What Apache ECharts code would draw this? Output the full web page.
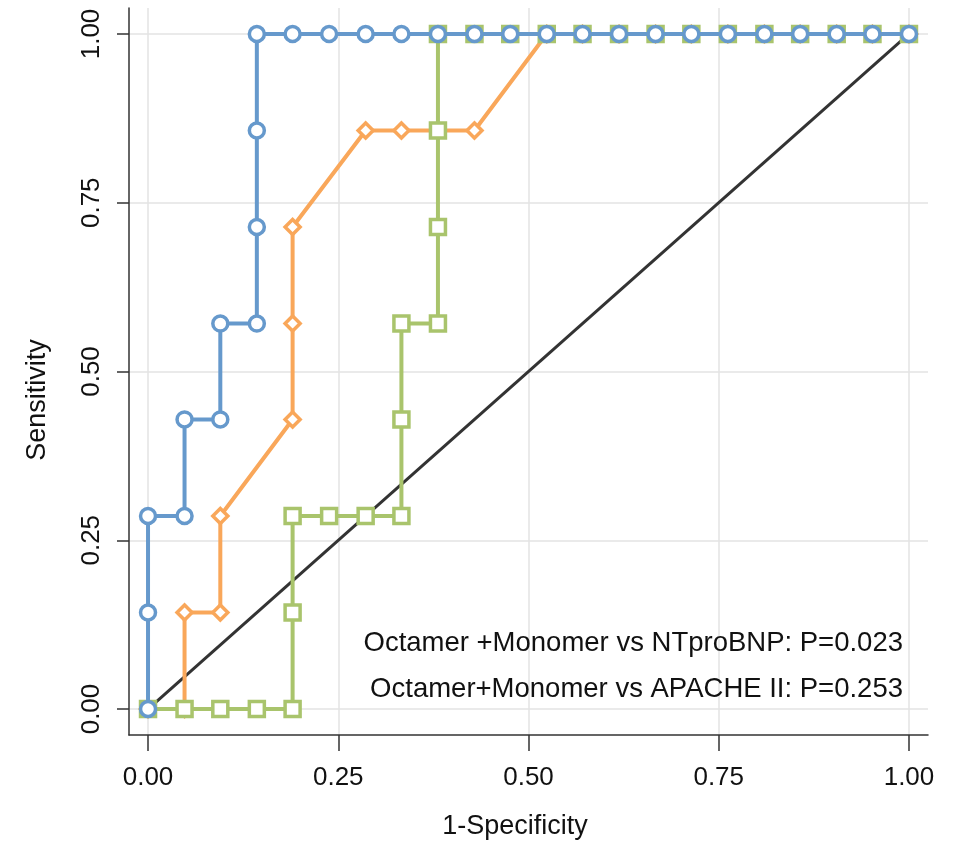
<!DOCTYPE html>
<html>
<head>
<meta charset="utf-8">
<script src="https://cdn.jsdelivr.net/npm/echarts@6/dist/echarts.min.js"></script>
<style>html,body{margin:0;padding:0;background:#fff;}#c{width:955px;height:847px;}</style>
</head>
<body>
<div id="c"></div>
<script>
// Octamer+Monomer (blue, circles)
const blueX = [0, 0, 0, 0.048, 0.048, 0.095, 0.095, 0.143, 0.143, 0.143, 0.143, 0.190, 0.238, 0.286, 0.333, 0.381, 0.429, 0.476, 0.524, 0.571, 0.619, 0.667, 0.714, 0.762, 0.810, 0.857, 0.905, 0.952, 1];
const blueY = [0, 0.143, 0.286, 0.286, 0.429, 0.429, 0.571, 0.571, 0.714, 0.857, 1, 1, 1, 1, 1, 1, 1, 1, 1, 1, 1, 1, 1, 1, 1, 1, 1, 1, 1];
// NTproBNP (orange, diamonds)
const orangeX = [0, 0.048, 0.048, 0.095, 0.095, 0.190, 0.190, 0.190, 0.286, 0.333, 0.429, 0.524, 0.571, 0.619, 0.667, 0.714, 0.762, 0.810, 0.857, 0.905, 0.952, 1];
const orangeY = [0, 0, 0.143, 0.143, 0.286, 0.429, 0.571, 0.714, 0.857, 0.857, 0.857, 1, 1, 1, 1, 1, 1, 1, 1, 1, 1, 1];
// APACHE II (green, squares)
const greenX = [0, 0.048, 0.095, 0.143, 0.190, 0.190, 0.190, 0.238, 0.286, 0.333, 0.333, 0.333, 0.381, 0.381, 0.381, 0.381, 0.429, 0.476, 0.524, 0.571, 0.619, 0.667, 0.714, 0.762, 0.810, 0.857, 0.905, 0.952, 1];
const greenY = [0, 0, 0, 0, 0, 0.143, 0.286, 0.286, 0.286, 0.286, 0.429, 0.571, 0.571, 0.714, 0.857, 1, 1, 1, 1, 1, 1, 1, 1, 1, 1, 1, 1, 1, 1];
// Reference diagonal
const refX = [0, 1];
const refY = [0, 1];
// Tick values
const xTicks = [0, 0.25, 0.5, 0.75, 1];
const yTicks = [0, 0.25, 0.5, 0.75, 1];
const xTitle = '1-Specificity';
const yTitle = 'Sensitivity';
const notes = ['Octamer +Monomer vs NTproBNP: P=0.023', 'Octamer+Monomer vs APACHE II: P=0.253'];

const FONT = "'Liberation Sans', Arial, Helvetica, sans-serif";
const pairs = (xs, ys) => xs.map((x, i) => [x, ys[i]]);
const fmt = v => Number(v).toFixed(2);

const chart = echarts.init(document.getElementById('c'), null, {renderer: 'canvas'});
const axisLine = {show: true, onZero: false, lineStyle: {color: '#333', width: 1.5}};

function rocSeries(name, xs, ys, color, symbol, size, z) {
  return {
    name, type: 'line', data: pairs(xs, ys), z,
    symbol, symbolSize: size, showAllSymbol: true,
    lineStyle: {color, width: 4},
    itemStyle: {color: '#fff', borderColor: color, borderWidth: 3.5},
    emphasis: {disabled: true}, animation: false
  };
}

chart.setOption({
  animation: false,
  grid: {left: 129, right: 27, top: 8, bottom: 112},
  xAxis: {
    type: 'value', min: -0.025, max: 1.025,
    axisLine,
    axisTick: {show: true, customValues: xTicks, length: 16, lineStyle: {color: '#333', width: 1.5}},
    axisLabel: {customValues: xTicks, formatter: fmt, fontSize: 26, color: '#111', fontFamily: FONT, margin: 30},
    splitLine: {show: false}
  },
  yAxis: {
    type: 'value', min: -0.0385, max: 1.0385,
    axisLine,
    axisTick: {show: true, customValues: yTicks, length: 12, lineStyle: {color: '#333', width: 1.5}},
    axisLabel: {customValues: yTicks, formatter: fmt, fontSize: 26, color: '#111', fontFamily: FONT, rotate: 90, margin: 24},
    splitLine: {show: false}
  },
  series: [
    {
      name: 'grid', type: 'line', data: [], z: 0, silent: true,
      markLine: {
        silent: true, symbol: 'none', animation: false, z: 0,
        label: {show: false},
        lineStyle: {color: '#e3e3e3', width: 1.5, type: 'solid'},
        emphasis: {disabled: true},
        data: xTicks.map(v => ({xAxis: v})).concat(yTicks.map(v => ({yAxis: v})))
      }
    },
    {
      name: 'Reference', type: 'line', data: pairs(refX, refY), z: 1,
      symbol: 'none', lineStyle: {color: '#333', width: 3}, emphasis: {disabled: true}
    },
    rocSeries('NTproBNP', orangeX, orangeY, '#F9A75A', 'diamond', 15, 2),
    rocSeries('APACHE II', greenX, greenY, '#A9C46C', 'rect', 15, 3),
    rocSeries('Octamer+Monomer', blueX, blueY, '#6699CC', 'circle', 15, 4)
  ],
  graphic: [
    {type: 'text', z: 10, position: [515, 827], style: {text: xTitle, font: "27px " + FONT, fill: '#111', textAlign: 'center', textVerticalAlign: 'middle'}},
    {type: 'text', z: 10, position: [38, 400], rotation: Math.PI / 2, style: {text: yTitle, font: "27px " + FONT, fill: '#111', textAlign: 'center', textVerticalAlign: 'middle'}},
    {type: 'text', z: 10, position: [903, 643], style: {text: notes[0], font: "27.5px " + FONT, fill: '#111', textAlign: 'right', textVerticalAlign: 'middle'}},
    {type: 'text', z: 10, position: [903, 689], style: {text: notes[1], font: "27.5px " + FONT, fill: '#111', textAlign: 'right', textVerticalAlign: 'middle'}}
  ]
});
</script>
</body>
</html>
